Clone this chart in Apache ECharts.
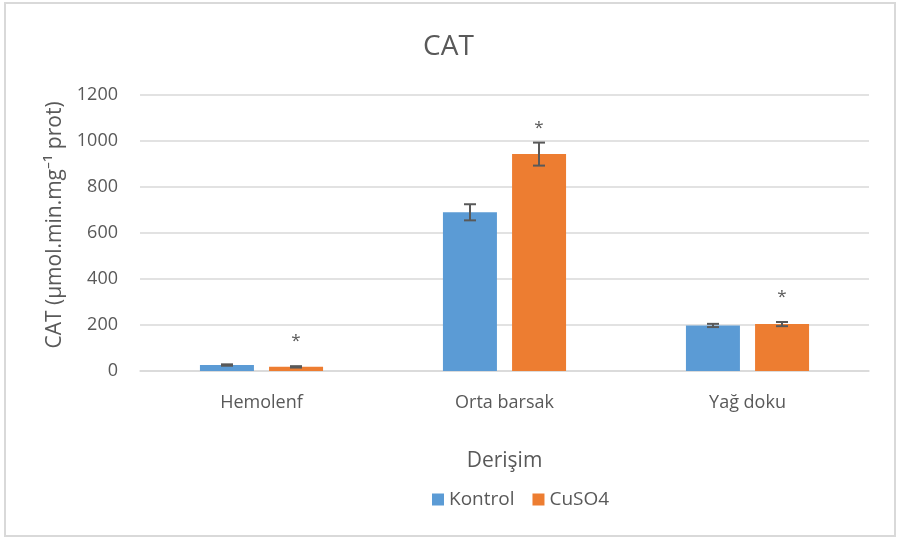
<!DOCTYPE html>
<html>
<head>
<meta charset="utf-8">
<script src="https://cdn.jsdelivr.net/npm/echarts@6/dist/echarts.min.js"></script>
<style>
  html, body { margin: 0; padding: 0; background: #fff; }
  #main { width: 897px; height: 539px; }
</style>
</head>
<body>
<div id="main"></div>
<script>
// values
const categories = ['Hemolenf', 'Orta barsak', 'Yağ doku'];
const kontrol = [26, 690, 198];
const kontrolErr = [3, 35, 7];
const cuso4 = [18, 943, 204];
const cuso4Err = [3, 50, 9];
// where the significance marks sit (value units)
const starAt = [130, 1055, 320];

const textColor = '#595959';
const font = '"Open Sans", "Noto Sans", sans-serif';
const barW = 54;
const offset = 34.5; // half of bar + gap

const chart = echarts.init(document.getElementById('main'));

// error bars drawn as a custom series
function errSeries(vals, errs, dx) {
  return {
    type: 'custom',
    silent: true,
    z: 5,
    data: vals.map((v, i) => [i, v, errs[i]]),
    renderItem: (params, api) => {
      const i = api.value(0);
      const v = api.value(1);
      const e = api.value(2);
      const top = api.coord([i, v + e]);
      const bot = api.coord([i, v - e]);
      const x = top[0] + dx;
      const cap = 6;
      const style = { stroke: textColor, lineWidth: 2 };
      return {
        type: 'group',
        children: [
          { type: 'line', shape: { x1: x, y1: top[1], x2: x, y2: bot[1] }, style },
          { type: 'line', shape: { x1: x - cap, y1: top[1], x2: x + cap, y2: top[1] }, style },
          { type: 'line', shape: { x1: x - cap, y1: bot[1], x2: x + cap, y2: bot[1] }, style }
        ]
      };
    }
  };
}

const option = {
  animation: false,
  textStyle: { fontFamily: font },
  title: {
    text: 'CAT',
    left: 'center',
    top: 28,
    textStyle: { fontSize: 28, fontWeight: 'normal', color: textColor, fontFamily: font }
  },
  graphic: [{
    type: 'rect',
    shape: { x: 5, y: 3, width: 890, height: 533 },
    style: { fill: 'none', stroke: '#d9d9d9', lineWidth: 2 },
    silent: true
  }],
  legend: {
    data: ['Kontrol', 'CuSO4'],
    bottom: 25,
    left: 427,
    itemWidth: 12,
    itemHeight: 12,
    itemGap: 18,
    icon: 'rect',
    textStyle: { fontSize: 19, color: textColor, fontFamily: font }
  },
  grid: { left: 140, right: 28, top: 95, bottom: 168 },
  xAxis: {
    type: 'category',
    data: categories,
    name: 'Derişim',
    nameLocation: 'middle',
    nameGap: 80,
    nameTextStyle: { fontSize: 21, color: textColor },
    axisLine: { lineStyle: { color: '#d9d9d9', width: 1.5 } },
    axisTick: { show: false },
    axisLabel: { fontSize: 18, color: textColor, margin: 23 }
  },
  yAxis: {
    type: 'value',
    min: 0,
    max: 1200,
    interval: 200,
    name: 'CAT (µmol.min.mg⁻¹ prot)',
    nameLocation: 'middle',
    nameRotate: 90,
    nameGap: 56,
    nameTextStyle: { fontSize: 21, color: textColor, padding: [0, 0, 0, 16] },
    axisLine: { show: false },
    axisTick: { show: false },
    axisLabel: { fontSize: 18, color: textColor, margin: 22, formatter: v => String(v) },
    splitLine: { lineStyle: { color: '#d9d9d9', width: 1.5 } }
  },
  series: [
    {
      name: 'Kontrol',
      type: 'bar',
      data: kontrol,
      barWidth: barW,
      barGap: '28%',
      itemStyle: { color: '#5b9bd5' }
    },
    {
      name: 'CuSO4',
      type: 'bar',
      data: cuso4,
      barWidth: barW,
      barGap: '28%',
      itemStyle: { color: '#ed7d31' }
    },
    errSeries(kontrol, kontrolErr, -offset),
    errSeries(cuso4, cuso4Err, offset),
    {
      type: 'custom',
      silent: true,
      data: starAt.map((v, i) => [i, v]),
      renderItem: (params, api) => {
        const p = api.coord([api.value(0), api.value(1)]);
        return {
          type: 'text',
          x: p[0] + offset,
          y: p[1],
          style: {
            text: '*',
            fill: textColor,
            font: '17px ' + font,
            align: 'center',
            verticalAlign: 'middle'
          }
        };
      }
    }
  ]
};

chart.setOption(option);
</script>
</body>
</html>
